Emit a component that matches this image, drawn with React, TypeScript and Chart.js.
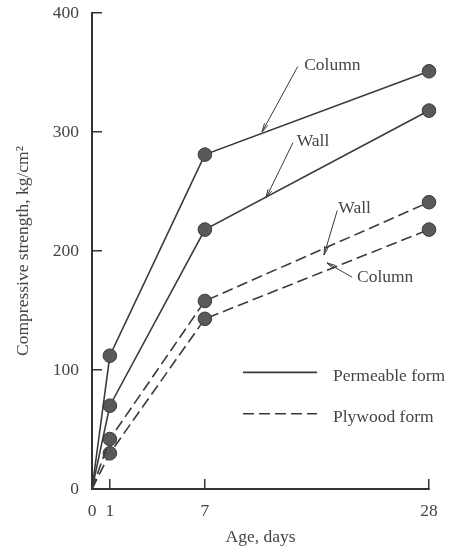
import React, { useEffect, useRef } from 'react';
import { Chart, registerables, LinearScale } from 'chart.js';

// ---- data ----
const AGE_DAYS = [0, 1, 7, 28];
const PERMEABLE_COLUMN = [0, 112, 281, 351];
const PERMEABLE_WALL = [0, 70, 218, 318];
const PLYWOOD_WALL = [0, 42, 158, 241];
const PLYWOOD_COLUMN = [0, 30, 143, 218];

const X_TICKS = [0, 1, 7, 28];
const Y_TICKS = [0, 100, 200, 300, 400];

const LEGEND_LABELS = ['Permeable form', 'Plywood form'];

// curve call-outs (data units)
const CALLOUT_TEXT = ['Column', 'Wall', 'Wall', 'Column'];
const CALLOUT_TEXT_X = [16.3, 15.6, 19.5, 21.25];
const CALLOUT_TEXT_Y = [356, 292, 236, 178];
const CALLOUT_FROM_X = [15.7, 15.25, 19.4, 20.8];
const CALLOUT_FROM_Y = [355, 291, 234, 178];
const CALLOUT_TO_X = [12.35, 12.72, 18.16, 18.44];
const CALLOUT_TO_Y = [300, 244.5, 196.6, 190];

// non-uniform drawn age axis: breakpoints and their fraction of axis length
const X_BREAKS = [0, 1, 7, 28];
const X_BREAK_FRACTIONS = [0, 0.053, 0.335, 1];

const FONT_FAMILY = "'Liberation Serif', 'Times New Roman', serif";
const INK = '#3a3a3a';
const TEXT = '#454545';

function toFrac(v: number): number {
  const b = X_BREAKS, f = X_BREAK_FRACTIONS;
  if (v <= b[0]) return f[0] + (v - b[0]) * (f[1] - f[0]) / (b[1] - b[0]);
  for (let i = 1; i < b.length; i++) {
    if (v <= b[i] || i === b.length - 1) {
      return f[i - 1] + (v - b[i - 1]) * (f[i] - f[i - 1]) / (b[i] - b[i - 1]);
    }
  }
  return 1;
}
function fromFrac(d: number): number {
  const b = X_BREAKS, f = X_BREAK_FRACTIONS;
  for (let i = 1; i < f.length; i++) {
    if (d <= f[i] || i === f.length - 1) {
      return b[i - 1] + (d - f[i - 1]) * (b[i] - b[i - 1]) / (f[i] - f[i - 1]);
    }
  }
  return b[b.length - 1];
}

class PiecewiseScale extends LinearScale {
  static id = 'piecewise';
  static defaults = {};
  getPixelForValue(value: number) {
    return this.getPixelForDecimal(toFrac(value));
  }
  getValueForPixel(pixel: number) {
    return fromFrac(this.getDecimalForPixel(pixel));
  }
}

Chart.register(...registerables, PiecewiseScale);

function drawArrow(ctx: CanvasRenderingContext2D, x1: number, y1: number, x2: number, y2: number) {
  ctx.beginPath();
  ctx.moveTo(x1, y1);
  ctx.lineTo(x2, y2);
  ctx.stroke();
  const ang = Math.atan2(y2 - y1, x2 - x1);
  const len = 9, spread = 0.22;
  ctx.beginPath();
  ctx.moveTo(x2 - len * Math.cos(ang - spread), y2 - len * Math.sin(ang - spread));
  ctx.lineTo(x2, y2);
  ctx.lineTo(x2 - len * Math.cos(ang + spread), y2 - len * Math.sin(ang + spread));
  ctx.stroke();
}

const calloutPlugin = {
  id: 'callouts',
  afterDatasetsDraw(chart: any) {
    const { ctx, scales } = chart;
    const xs = scales.x, ys = scales.y;
    ctx.save();
    ctx.strokeStyle = INK;
    ctx.lineWidth = 1;
    ctx.fillStyle = TEXT;
    ctx.font = `17.5px ${FONT_FAMILY}`;
    ctx.textAlign = 'left';
    ctx.textBaseline = 'middle';
    for (let i = 0; i < CALLOUT_TEXT.length; i++) {
      drawArrow(
        ctx,
        xs.getPixelForValue(CALLOUT_FROM_X[i]), ys.getPixelForValue(CALLOUT_FROM_Y[i]),
        xs.getPixelForValue(CALLOUT_TO_X[i]), ys.getPixelForValue(CALLOUT_TO_Y[i])
      );
      ctx.fillText(CALLOUT_TEXT[i], xs.getPixelForValue(CALLOUT_TEXT_X[i]), ys.getPixelForValue(CALLOUT_TEXT_Y[i]));
    }
    ctx.restore();
  },
};

const legendPlugin = {
  id: 'innerLegend',
  afterDatasetsDraw(chart: any) {
    const { ctx, chartArea } = chart;
    const { left, top, width, height } = chartArea;
    const dashes = [[], [11, 5]];
    const rows = [0.755, 0.842];
    ctx.save();
    ctx.strokeStyle = INK;
    ctx.lineWidth = 1.6;
    ctx.fillStyle = TEXT;
    ctx.font = `17.5px ${FONT_FAMILY}`;
    ctx.textAlign = 'left';
    ctx.textBaseline = 'middle';
    LEGEND_LABELS.forEach((label, i) => {
      const y = top + rows[i] * height;
      ctx.setLineDash(dashes[i]);
      ctx.beginPath();
      ctx.moveTo(left + 0.448 * width, y);
      ctx.lineTo(left + 0.668 * width, y);
      ctx.stroke();
      ctx.setLineDash([]);
      ctx.fillText(label, left + 0.715 * width, y + 4);
    });
    ctx.restore();
  },
};

function series(values: number[], dashed: boolean) {
  return {
    data: AGE_DAYS.map((x, i) => ({ x, y: values[i] })),
    borderColor: INK,
    borderWidth: 1.6,
    borderDash: dashed ? [11, 5] : [],
    pointRadius: AGE_DAYS.map((d) => (d === 0 ? 0 : 6.8)),
    pointBackgroundColor: '#595959',
    pointBorderColor: '#3a3a3a',
    pointBorderWidth: 1,
    tension: 0,
    fill: false,
    clip: false,
  };
}

export default function App() {
  const ref = useRef<HTMLCanvasElement | null>(null);
  useEffect(() => {
    if (!ref.current) return;
    const tickFont = { family: FONT_FAMILY, size: 17.5 };
    const chart = new Chart(ref.current, {
      type: 'line',
      data: {
        datasets: [
          series(PERMEABLE_COLUMN, false),
          series(PERMEABLE_WALL, false),
          series(PLYWOOD_WALL, true),
          series(PLYWOOD_COLUMN, true),
        ],
      },
      options: {
        responsive: false,
        animation: false,
        devicePixelRatio: 1,
        layout: { padding: { left: 0, right: 23, top: 13, bottom: 0 } },
        plugins: { legend: { display: false }, tooltip: { enabled: false } },
        scales: {
          x: {
            type: 'piecewise' as any,
            min: 0,
            max: 28,
            afterBuildTicks: (s: any) => { s.ticks = X_TICKS.map((v) => ({ value: v })); },
            afterFit: (s: any) => { s.height = 59; s.paddingLeft = 0; s.paddingRight = 0; },
            border: { display: true, color: '#333', width: 2 },
            grid: { drawOnChartArea: false, drawTicks: true, tickLength: -10, color: '#333', lineWidth: 1.5 },
            ticks: { color: TEXT, font: tickFont, padding: 22, maxRotation: 0, autoSkip: false },
            title: { display: true, text: 'Age, days', color: TEXT, font: tickFont, padding: { top: 0, bottom: 0 } },
          },
          y: {
            type: 'linear',
            min: 0,
            max: 400,
            afterBuildTicks: (s: any) => { s.ticks = Y_TICKS.map((v) => ({ value: v })); },
            afterFit: (s: any) => { s.width = 92; s.paddingTop = 0; s.paddingBottom = 0; },
            border: { display: true, color: '#333', width: 2 },
            grid: { drawOnChartArea: false, drawTicks: true, tickLength: -10, color: '#333', lineWidth: 1.5 },
            ticks: { color: TEXT, font: tickFont, padding: 23 },
            title: { display: true, text: 'Compressive strength, kg/cm²', color: TEXT, font: tickFont, padding: { top: 13, bottom: 0 } },
          },
        },
      },
      plugins: [calloutPlugin, legendPlugin],
    } as any);
    return () => chart.destroy();
  }, []);
  return (
    <canvas ref={ref} width={452} height={548} style={{ position: 'absolute', left: 0, top: 0 }} />
  );
}
